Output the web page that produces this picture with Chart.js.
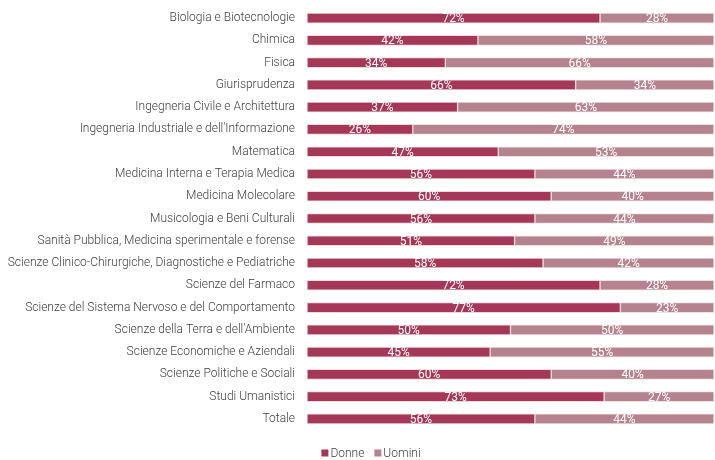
<!DOCTYPE html>
<html>
<head>
<meta charset="utf-8">
<script src="https://cdn.jsdelivr.net/npm/chart.js@4/dist/chart.umd.min.js"></script>
<style>
html,body{margin:0;padding:0;background:#fff;}
#wrap{width:715px;height:460px;position:relative;}
</style>
</head>
<body>
<div id="wrap"><canvas id="c" width="715" height="460"></canvas></div>
<script>
const categories = [
  "Biologia e Biotecnologie",
  "Chimica",
  "Fisica",
  "Giurisprudenza",
  "Ingegneria Civile e Architettura",
  "Ingegneria Industriale e dell'Informazione",
  "Matematica",
  "Medicina Interna e Terapia Medica",
  "Medicina Molecolare",
  "Musicologia e Beni Culturali",
  "Sanità Pubblica, Medicina sperimentale e forense",
  "Scienze Clinico-Chirurgiche, Diagnostiche e Pediatriche",
  "Scienze del Farmaco",
  "Scienze del Sistema Nervoso e del Comportamento",
  "Scienze della Terra e dell'Ambiente",
  "Scienze Economiche e Aziendali",
  "Scienze Politiche e Sociali",
  "Studi Umanistici",
  "Totale"
];
const donne  = [72, 42, 34, 66, 37, 26, 47, 56, 60, 56, 51, 58, 72, 77, 50, 45, 60, 73, 56];
const uomini = [28, 58, 66, 34, 63, 74, 53, 44, 40, 44, 49, 42, 28, 23, 50, 55, 40, 27, 44];
const seriesNames = ["Donne", "Uomini"];
const seriesColors = ["#A53757", "#B5838E"];

const labelPlugin = {
  id: 'segLabels',
  afterDatasetsDraw(chart) {
    const ctx = chart.ctx;
    ctx.save();
    ctx.font = '400 12px Roboto';
    ctx.fillStyle = '#ffffff';
    ctx.textAlign = 'center';
    ctx.textBaseline = 'middle';
    chart.data.datasets.forEach((ds, di) => {
      const meta = chart.getDatasetMeta(di);
      meta.data.forEach((bar, i) => {
        const x = (bar.x + bar.base) / 2;
        ctx.fillText(ds.data[i] + '%', x, bar.y + 1);
      });
    });
    ctx.restore();
  }
};

// compact bottom legend (small gap between swatch and text)
const legendPlugin = {
  id: 'compactLegend',
  afterDraw(chart) {
    const ctx = chart.ctx;
    ctx.save();
    ctx.font = '300 12px Roboto';
    ctx.textBaseline = 'middle';
    ctx.textAlign = 'left';
    const box = 7, gap = 2, itemGap = 10;
    const items = chart.data.datasets.map(ds => ({ text: ds.label, color: ds.backgroundColor, w: box + gap + ctx.measureText(ds.label).width }));
    const total = items.reduce((a, it) => a + it.w, 0) + itemGap * (items.length - 1);
    let x = 371 - total / 2;
    const y = 453.5;
    items.forEach(it => {
      ctx.fillStyle = it.color;
      ctx.fillRect(x, y - box / 2 - 0.5, box, box);
      ctx.fillStyle = '#404040';
      ctx.fillText(it.text, x + box + gap, y);
      x += it.w + itemGap;
    });
    ctx.restore();
  }
};

new Chart(document.getElementById('c'), {
  type: 'bar',
  data: {
    labels: categories,
    datasets: [
      { label: seriesNames[0], data: donne, backgroundColor: seriesColors[0], borderColor: '#eed9df', borderWidth: 1, borderSkipped: false, barThickness: 10 },
      { label: seriesNames[1], data: uomini, backgroundColor: seriesColors[1], borderColor: '#eedfe2', borderWidth: 1, borderSkipped: false, barThickness: 10 }
    ]
  },
  options: {
    indexAxis: 'y',
    responsive: false,
    animation: false,
    layout: { padding: { left: 0, right: 1, top: 7, bottom: 30 } },
    scales: {
      x: {
        stacked: true, min: 0, max: 100, display: false
      },
      y: {
        stacked: true,
        grid: { display: false, drawTicks: false },
        border: { display: false },
        ticks: { color: '#404040', font: { family: 'Roboto', weight: '300', size: 12 }, padding: 12, autoSkip: false },
        afterFit(s) { s.width = 307; s.paddingTop = 0; s.paddingBottom = 0; }
      }
    },
    plugins: {
      legend: { display: false },
      tooltip: { enabled: false }
    }
  },
  plugins: [labelPlugin, legendPlugin]
});
</script>
</body>
</html>
